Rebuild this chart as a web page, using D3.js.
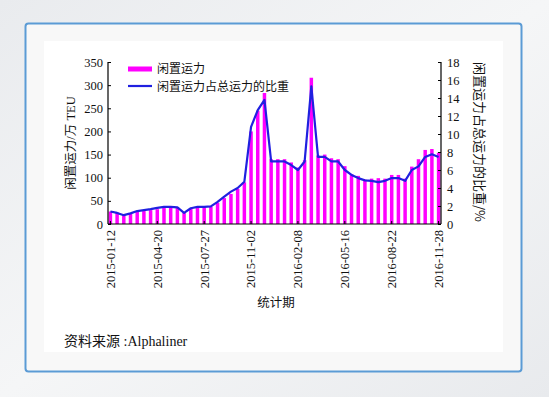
<!DOCTYPE html>
<html>
<head>
<meta charset="utf-8">
<script src="https://cdn.jsdelivr.net/npm/d3@7"></script>
<style>
body { margin: 0; background: #eceef1; }
svg { display: block; }
.serif { font-family: "Liberation Serif", "Noto Sans CJK SC", serif; }
.cjk { font-family: "Noto Sans CJK SC", sans-serif; }
</style>
</head>
<body>
<svg width="549" height="397"></svg>
<script>
// data (biweekly)
var dates = [
	"2015-01-12","2015-01-26","2015-02-09","2015-02-23","2015-03-09","2015-03-23","2015-04-06",
	"2015-04-20","2015-05-04","2015-05-18","2015-06-01","2015-06-15","2015-06-29","2015-07-13",
	"2015-07-27","2015-08-10","2015-08-24","2015-09-07","2015-09-21","2015-10-05","2015-10-19",
	"2015-11-02","2015-11-16","2015-11-30","2015-12-14","2015-12-28","2016-01-11","2016-01-25",
	"2016-02-08","2016-02-22","2016-03-07","2016-03-21","2016-04-04","2016-04-18","2016-05-02",
	"2016-05-16","2016-05-30","2016-06-13","2016-06-27","2016-07-11","2016-07-25","2016-08-08",
	"2016-08-22","2016-09-05","2016-09-19","2016-10-03","2016-10-17","2016-10-31","2016-11-14",
	"2016-11-28"
];
// 闲置运力 (万TEU)
var idle = [
	27, 25, 18, 22, 26, 28, 30,
	32, 36, 36, 36, 24, 33, 36,
	37, 37, 46, 56, 65, 76, 90,
	200, 245, 283, 140, 140, 140, 133,
	122, 138, 316, 148, 150, 142, 140,
	125, 108, 104, 96, 98, 99, 98,
	106, 106, 98, 124, 140, 160, 162,
	154
];
// 闲置运力占总运力的比重 (%)
var share = [
	1.39, 1.23, 0.98, 1.18, 1.44, 1.54, 1.65,
	1.8, 1.9, 1.9, 1.85, 1.23, 1.75, 1.9,
	1.9, 1.95, 2.45, 3.05, 3.6, 4.0, 4.7,
	10.8, 12.65, 13.8, 6.95, 6.95, 6.95, 6.55,
	6.0, 6.95, 15.3, 7.45, 7.45, 6.95, 6.95,
	6.0, 5.45, 5.1, 4.85, 4.8, 4.65, 4.8,
	5.1, 5.1, 4.8, 6.0, 6.4, 7.45, 7.75,
	7.45
];
var tickDates = ["2015-01-12","2015-04-20","2015-07-27","2015-11-02","2016-02-08","2016-05-16","2016-08-22","2016-11-28"];
var leftTicks = [0, 50, 100, 150, 200, 250, 300, 350];
var rightTicks = [0, 2, 4, 6, 8, 10, 12, 14, 16, 18];

var svg = d3.select("svg"),
    width = +svg.attr("width"),
    height = +svg.attr("height");

// background
var defs = svg.append("defs");
var grad = defs.append("linearGradient")
	.attr("id", "bg")
	.attr("x1", "0").attr("y1", "0")
	.attr("x2", "1").attr("y2", "1");
grad.append("stop").attr("offset", "0").attr("stop-color", "#e9ebee");
grad.append("stop").attr("offset", "0.5").attr("stop-color", "#f5f6f7");
grad.append("stop").attr("offset", "1").attr("stop-color", "#e8eaed");

svg.append("rect")
	.attr("width", width)
	.attr("height", height)
	.attr("fill", "url(#bg)");

// frame
svg.append("rect")
	.attr("x", 25.5).attr("y", 23.5)
	.attr("width", 496).attr("height", 348)
	.attr("rx", 3)
	.attr("fill", "#f8f8f8")
	.attr("stroke", "#5b9bd5")
	.attr("stroke-width", 2);

svg.append("rect")
	.attr("x", 44).attr("y", 41)
	.attr("width", 459).attr("height", 311)
	.attr("fill", "#ffffff");

// scales
var plotL = 108, plotR = 441, plotT = 62, plotB = 224;

var x = d3.scaleBand()
	.domain(dates)
	.range([plotL, plotR])
	.paddingInner(0.48)
	.paddingOuter(0.1);

var yLeft = d3.scaleLinear().domain([0, 350]).range([plotB, plotT]);
var yRight = d3.scaleLinear().domain([0, 18]).range([plotB, plotT]);

const g = svg.append("g");

// bars
g.selectAll("rect.bar")
	.data(idle)
	.enter()
	.append("rect")
		.attr("class", "bar")
		.attr("x", (d, i) => x(dates[i]))
		.attr("width", x.bandwidth())
		.attr("y", d => yLeft(d))
		.attr("height", d => plotB - yLeft(d))
		.style("fill", "#ff00ff");

// line
var line = d3.line()
	.x((d, i) => x(dates[i]) + x.bandwidth() / 2)
	.y(d => yRight(d));

g.append("path")
	.datum(share)
	.attr("d", line)
	.attr("fill", "none")
	.attr("stroke", "#2020e0")
	.attr("stroke-width", 2.2)
	.attr("stroke-linejoin", "round");

// axes
var leftAxis = d3.axisLeft(yLeft).tickValues(leftTicks).tickSize(-3).tickPadding(5);
var rightAxis = d3.axisRight(yRight).tickValues(rightTicks).tickSize(-3).tickPadding(6);
var bottomAxis = d3.axisBottom(x).tickValues(tickDates).tickSize(-3).tickPadding(6);

var gl = svg.append("g").attr("transform", "translate(" + plotL + ",0)").call(leftAxis);
var gr = svg.append("g").attr("transform", "translate(" + plotR + ",0)").call(rightAxis);
var gb = svg.append("g").attr("transform", "translate(0," + plotB + ")").call(bottomAxis);

[gl, gr, gb].forEach(a => {
	a.select(".domain").attr("stroke", "#000").attr("stroke-width", 1.2);
	a.selectAll(".tick line").attr("stroke", "#000");
	a.selectAll("text")
		.attr("class", "serif")
		.style("font-size", "12.5px")
		.attr("fill", "#111");
});
gl.select(".domain").attr("d", "M0," + plotB + "V" + plotT);
gr.select(".domain").attr("d", "M0," + plotB + "V" + plotT);
gb.select(".domain").attr("d", "M" + plotL + ",0H" + plotR);

gb.selectAll("text")
	.attr("transform", "rotate(-90)")
	.attr("text-anchor", "end")
	.attr("x", -6)
	.attr("y", 0)
	.attr("dy", "0.35em");

// axis titles
svg.append("text")
	.attr("class", "serif")
	.attr("transform", "translate(75,143) rotate(-90)")
	.attr("text-anchor", "middle")
	.style("font-size", "12.5px")
	.attr("fill", "#111")
	.text("闲置运力/万 TEU");

svg.append("text")
	.attr("class", "cjk")
	.attr("transform", "translate(475,142) rotate(90)")
	.attr("text-anchor", "middle")
	.style("font-size", "13px")
	.attr("fill", "#111")
	.text("闲置运力占总运力的比重/%");

svg.append("text")
	.attr("class", "cjk")
	.attr("x", 276)
	.attr("y", 307)
	.attr("text-anchor", "middle")
	.style("font-size", "12.5px")
	.attr("fill", "#111")
	.text("统计期");

svg.append("text")
	.attr("class", "serif")
	.attr("x", 64)
	.attr("y", 346)
	.style("font-size", "14px")
	.attr("fill", "#111")
	.text("资料来源 :Alphaliner");

// legend
var legend = svg.append("g");
legend.append("rect")
	.attr("x", 128).attr("y", 66.5)
	.attr("width", 24).attr("height", 5)
	.style("fill", "#ff00ff");
legend.append("line")
	.attr("x1", 128).attr("x2", 152)
	.attr("y1", 86).attr("y2", 86)
	.attr("stroke", "#2020e0")
	.attr("stroke-width", 2.2);
legend.append("text")
	.attr("class", "cjk")
	.attr("x", 157).attr("y", 69)
	.attr("dy", "0.35em")
	.style("font-size", "12px")
	.attr("fill", "#111")
	.text("闲置运力");
legend.append("text")
	.attr("class", "cjk")
	.attr("x", 157).attr("y", 86.5)
	.attr("dy", "0.35em")
	.style("font-size", "12px")
	.attr("fill", "#111")
	.text("闲置运力占总运力的比重");
</script>
</body>
</html>
